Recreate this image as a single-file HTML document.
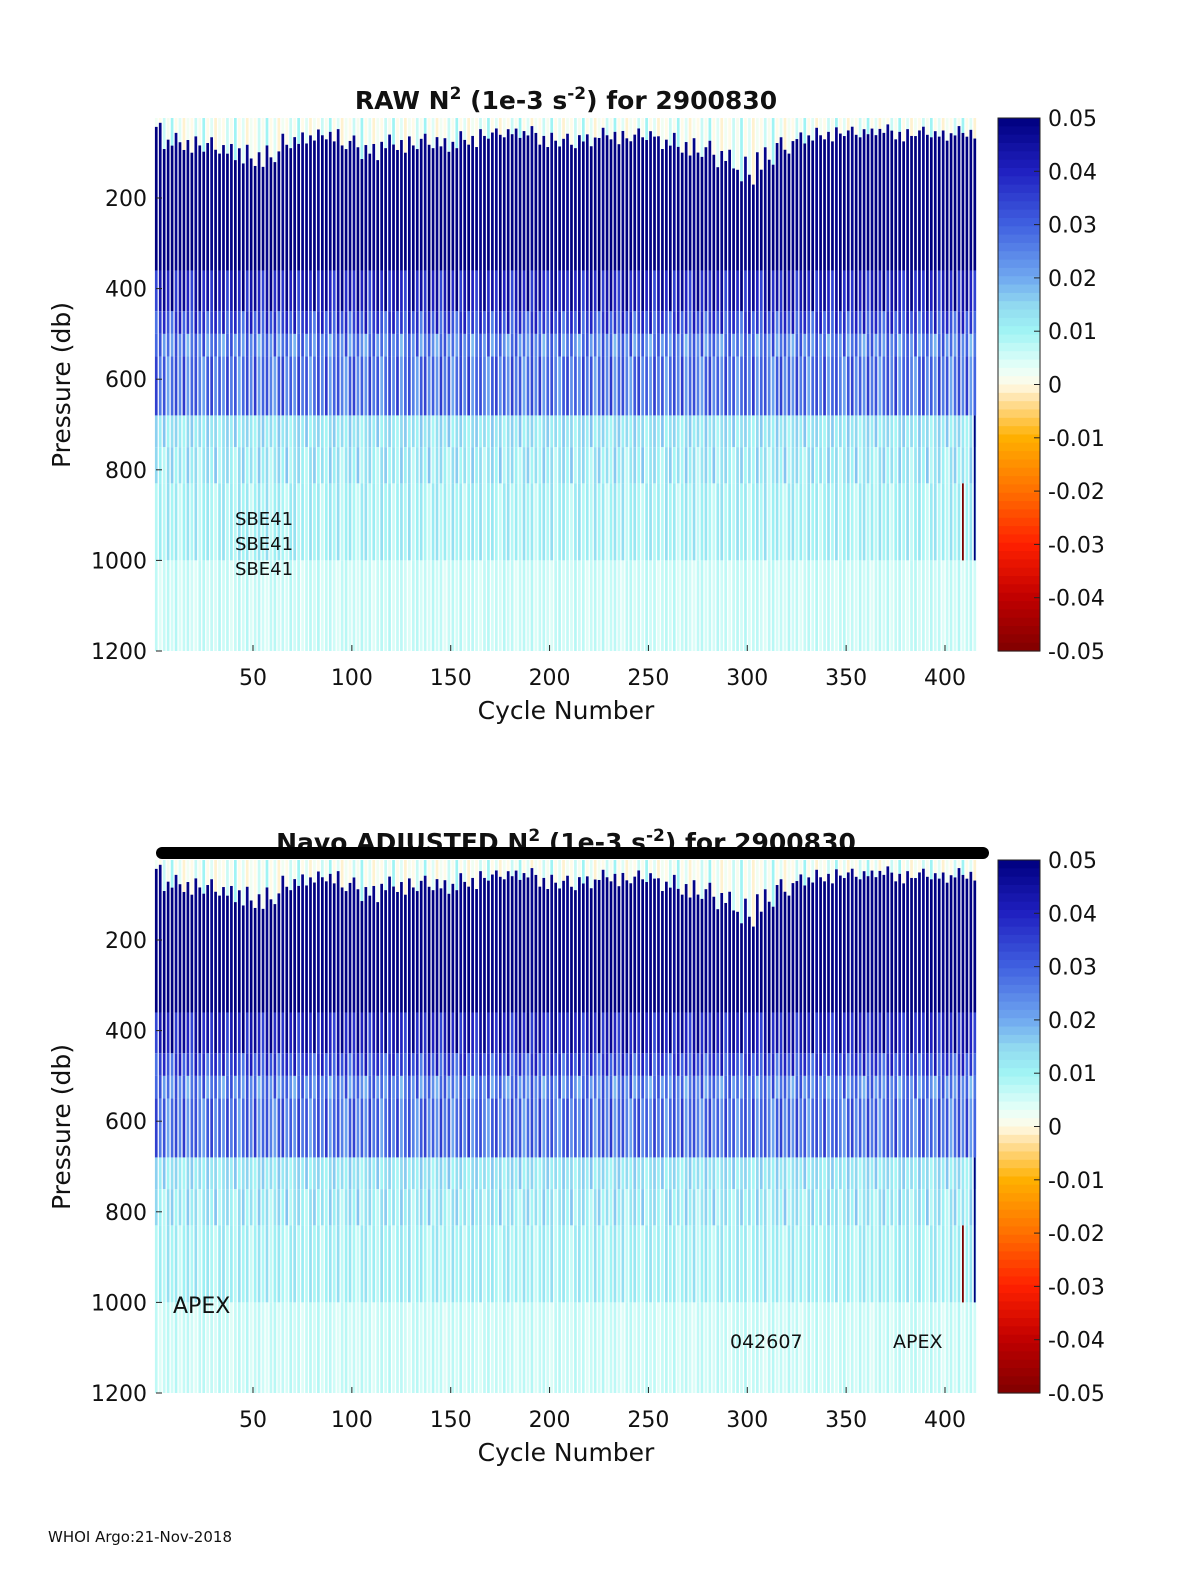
<!DOCTYPE html>
<html><head><meta charset="utf-8"><style>
html,body{margin:0;padding:0;background:#fff;overflow:hidden;width:1200px;height:1575px;}
svg{display:block;}
svg text{font-family:"DejaVu Sans","Liberation Sans",sans-serif;fill:#111;}
</style></head><body>
<svg id="chart" width="1200" height="1575" viewBox="0 0 1200 1575" xmlns="http://www.w3.org/2000/svg">
<rect width="1200" height="1575" fill="#fff"/>
<g id="p1"></g>
<g id="p2"></g>
<text x="48" y="1542" font-size="15">WHOI Argo:21-Nov-2018</text>
</svg>
<script>
// ---- data ----
const pressureTicks = [200, 400, 600, 800, 1000, 1200];
const cycleTicks = [50, 100, 150, 200, 250, 300, 350, 400];
const colorTicks = [0.05, 0.04, 0.03, 0.02, 0.01, 0, -0.01, -0.02, -0.03, -0.04, -0.05];
const colorTickLabels = ["0.05","0.04","0.03","0.02","0.01","0","-0.01","-0.02","-0.03","-0.04","-0.05"];
const bandTop = [0, 360, 450, 500, 550, 680, 750, 830, 1000];
const bandBot = [360, 450, 500, 550, 680, 750, 830, 1000, 1210];
const bandVal = [0.05, 0.042, 0.034, 0.026, 0.028, 0.013, 0.012, 0.010, 0.006];
const bandVar = [0.002, 0.008, 0.008, 0.008, 0.008, 0.004, 0.005, 0.004, 0.002];
const mldCycles = [0,10,20,30,40,50,60,70,80,90,100,110,120,130,140,150,160,170,180,190,200,210,220,230,240,250,260,270,280,290,300,310,320,330,340,350,360,370,380,390,400,410];
const mldDb = [40,75,80,85,95,110,105,75,65,60,80,95,80,80,75,80,70,60,55,55,70,75,70,60,65,60,75,85,95,110,145,110,85,65,60,55,55,50,60,55,60,55];
const stripeMod = [0.3,-0.6,0.9,-0.2,0.5,-1,0.1,0.7,-0.4,1,-0.8,0.2,0.6,-0.3,-0.9,0.4,0.8,-0.5];
const mixedVal = [0.002, 0.0, 0.006, 0.001, 0.01, 0.0, 0.004, -0.001];
const specialCycles = [409, 415];
const specialTop = [830, 680];
const specialBot = [1000, 1000];
const specialVal = [-0.05, 0.05];

// ---- colormap ----
const cStops=[[-0.05,[128,0,0]],[-0.04,[192,0,0]],[-0.03,[255,32,0]],[-0.02,[255,112,0]],[-0.01,[255,176,0]],[-0.003,[255,224,160]],[0,[255,251,232]],[0.003,[232,255,248]],[0.01,[160,244,244]],[0.015,[144,216,240]],[0.02,[112,168,240]],[0.03,[64,96,224]],[0.04,[32,32,192]],[0.05,[0,0,127]]];
function cmap(v){v=Math.max(-0.05,Math.min(0.05,v));
 for(let i=0;i<cStops.length-1;i++){const a=cStops[i],b=cStops[i+1];
  if(v<=b[0]){const t=(v-a[0])/(b[0]-a[0]);return 'rgb('+a[1].map((c,k)=>Math.round(c+(b[1][k]-c)*t)).join(',')+')';}}
 return 'rgb(0,0,127)';}
const NS='http://www.w3.org/2000/svg';
function el(tag,attrs,parent){const e=document.createElementNS(NS,tag);for(const k in attrs)e.setAttribute(k,attrs[k]);parent.appendChild(e);return e;}

function drawPanel(g, oy, title, adjusted){
 const X0=156,X1=977,Y0=118+oy,Y1=651+oy;
 const xs=c=>253+(c-50)*692/350;
 const ys=p=>198+oy+(p-200)*0.453;
 const cl=(y)=>Math.max(Y0,Math.min(Y1,y));
 const hm=el('g',{},g);
 
 
 let ci=0;
 for(let c=1;c<=415;c+=2){
  const x=xs(c)-1.2, w=2.7, m=stripeMod[ci%stripeMod.length];
  const mld=mldDb[Math.min(mldDb.length-1,Math.round(c/10))]*(1+0.25*m);
  const r0=el('rect',{x:x,y:Y0,width:w,height:Math.max(0,cl(ys(mld))-Y0),fill:cmap(mixedVal[ci%mixedVal.length])},hm);
  
  
  for(let b=0;b<bandTop.length;b++){
   const top=Math.max(bandTop[b],mld), bot=bandBot[b];
   if(bot<=top) continue;
   const y0=cl(ys(top)), y1=cl(ys(bot));
   if(y1<=y0) continue;
   const r=el('rect',{x:x,y:y0,width:w,height:y1-y0,fill:cmap(bandVal[b]+bandVar[b]*stripeMod[(ci+b*5)%stripeMod.length])},hm);
   
   
  }
  ci++;
 }
 for(let i=0;i<specialCycles.length;i++){
  const r=el('rect',{x:xs(specialCycles[i])-0.8,y:ys(specialTop[i]),width:1.8,height:ys(specialBot[i])-ys(specialTop[i]),fill:cmap(specialVal[i])},hm);
  
  
 }
 pressureTicks.forEach(p=>{const y=ys(p);
  el('line',{x1:X0,x2:X0+6,y1:y,y2:y,stroke:'#222'},g);
  const t=el('text',{x:147,y:y+8,'font-size':22,'text-anchor':'end'},g);t.textContent=p;
  
  });
 cycleTicks.forEach(c=>{const x=xs(c);
  el('line',{x1:x,x2:x,y1:Y1,y2:Y1-6,stroke:'#222'},g);
  const t=el('text',{x:x,y:Y1+34,'font-size':22,'text-anchor':'middle'},g);t.textContent=c;
  
  });
 let t=el('text',{x:566,y:Y1+68,'font-size':25,'text-anchor':'middle'},g);t.textContent='Cycle Number';
 
 
 t=el('text',{x:0,y:0,'font-size':25,'text-anchor':'middle',transform:'translate(70,'+(385+oy)+') rotate(-90)'},g);t.textContent='Pressure (db)';
 
 
 t=el('text',{x:566,y:Y0-9,'font-size':25,'font-weight':'bold','text-anchor':'middle'},g);
 t.innerHTML=title;
 
 
 const cb=el('g',{},g);
 
 
 const n=64;
 for(let i=0;i<n;i++){const v=0.05-(i+0.5)*0.1/n;
  el('rect',{x:998,y:Y0+i*(Y1-Y0)/n,width:42,height:(Y1-Y0)/n+0.6,fill:cmap(v)},cb);}
 el('rect',{x:998,y:Y0,width:42,height:Y1-Y0,fill:'none',stroke:'#222'},cb);
 colorTicks.forEach((v,i)=>{const y=Y0+(0.05-v)/0.1*(Y1-Y0);
  el('line',{x1:1034,x2:1040,y1:y,y2:y,stroke:'#222'},cb);
  const tt=el('text',{x:1048,y:y+8,'font-size':22},cb);tt.textContent=colorTickLabels[i];
  
  });
 if(adjusted){
  const ln=el('line',{x1:162,x2:983,y1:853,y2:853,stroke:'#000','stroke-width':12,'stroke-linecap':'round'},g);
  
  
  [['APEX',173,1313,22],['042607',730,1348,19],['APEX',893,1348,19]].forEach(a=>{
   const tx=el('text',{x:a[1],y:a[2],'font-size':a[3]},g);tx.textContent=a[0];
   
   });
 } else {
  [525,550,575].forEach(y=>{const tx=el('text',{x:235,y:y,'font-size':18},g);tx.textContent='SBE41';
   
   });
 }
}
drawPanel(document.getElementById('p1'),0,'RAW N<tspan dy="-10" font-size="17">2</tspan><tspan dy="10"> (1e-3 s</tspan><tspan dy="-10" font-size="17">-2</tspan><tspan dy="10">) for 2900830</tspan>',false);
drawPanel(document.getElementById('p2'),742,'Navo  ADJUSTED N<tspan dy="-10" font-size="17">2</tspan><tspan dy="10"> (1e-3 s</tspan><tspan dy="-10" font-size="17">-2</tspan><tspan dy="10">) for 2900830</tspan>',true);
</script>
</body></html>
